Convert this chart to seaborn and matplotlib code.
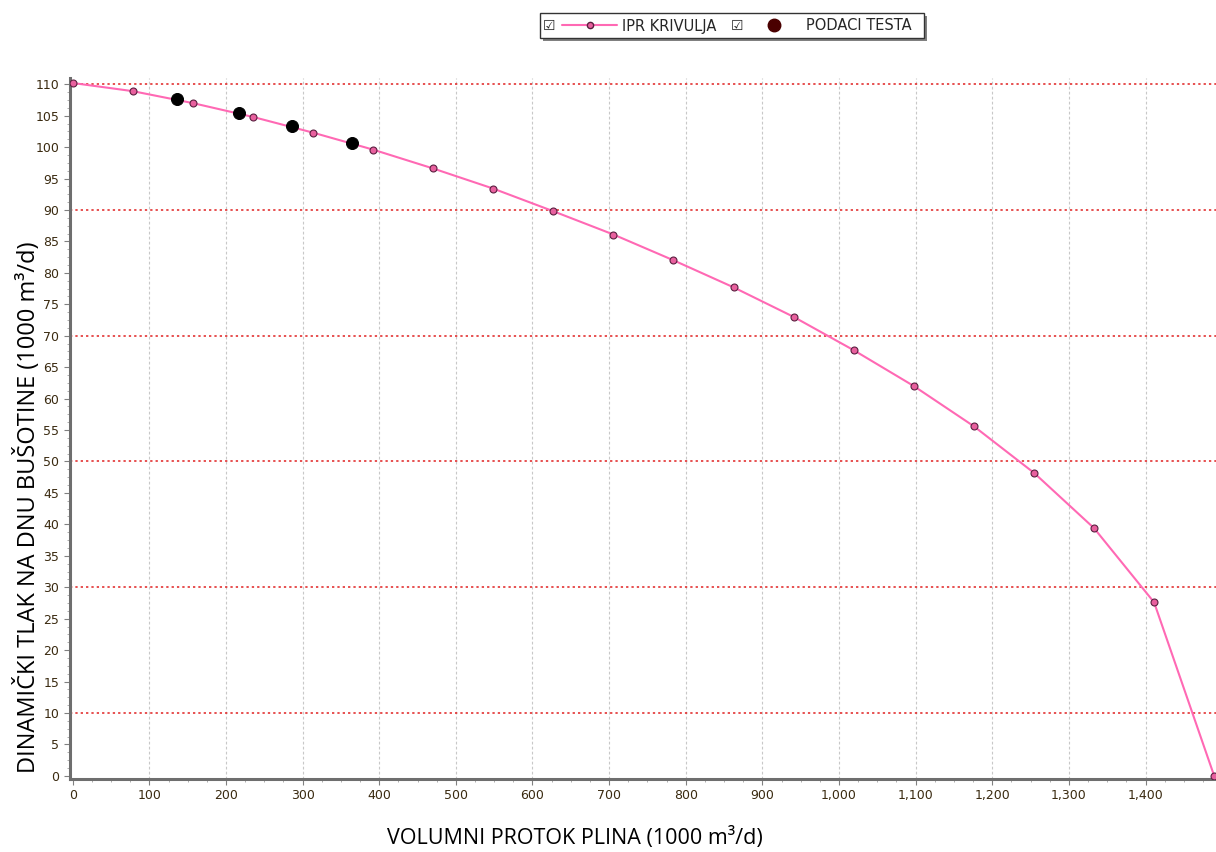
import numpy as np
import pandas as pd
import seaborn as sns
import matplotlib.pyplot as plt
from matplotlib.ticker import MultipleLocator, FuncFormatter
from matplotlib.lines import Line2D
from matplotlib.patches import Rectangle

# IPR curve
q_ipr = [0, 78.4, 156.8, 235.2, 313.6, 392.0, 470.4, 548.8, 627.2, 705.6,
         784.0, 862.4, 940.8, 1019.2, 1097.6, 1176.0, 1254.4, 1332.8, 1411.2, 1489.6]
p_ipr = [110.2, 108.9, 107.0, 104.8, 102.3, 99.6, 96.6, 93.4, 89.8, 86.1,
         82.0, 77.7, 73.0, 67.7, 62.0, 55.6, 48.2, 39.4, 27.6, 0.0]

# test data
q_test = [135.7, 217.4, 285.7, 364.4]
p_test = [107.6, 105.4, 103.3, 100.6]

df_ipr = pd.DataFrame({"q": q_ipr, "p": p_ipr})
df_test = pd.DataFrame({"q": q_test, "p": p_test})

sns.set_style("white")
plt.rcParams['font.family'] = ['DejaVu Sans']

W, H = 1216, 852
fig = plt.figure(figsize=(12.16, 8.52), dpi=100)
ax = fig.add_axes([0.0573, 0.0857, 0.9427, 0.8228])

pink = "#ff69b4"
sns.lineplot(data=df_ipr, x="q", y="p", ax=ax, color=pink, linewidth=1.5,
             marker="o", markersize=5, markerfacecolor="#e8609e",
             markeredgecolor="#5a2040", markeredgewidth=0.8, zorder=3)
sns.scatterplot(data=df_test, x="q", y="p", ax=ax, color="black", s=75,
                marker="o", edgecolor="black", zorder=4)

ax.set_xlim(-4, 1492)
ax.set_ylim(-0.5, 111)

ax.xaxis.set_major_locator(MultipleLocator(100))
ax.xaxis.set_minor_locator(MultipleLocator(25))
ax.yaxis.set_major_locator(MultipleLocator(5))
ax.yaxis.set_minor_locator(MultipleLocator(1.25))
ax.xaxis.set_major_formatter(FuncFormatter(lambda v, p: f"{int(v):,}"))

for v in range(100, 1500, 100):
    ax.axvline(v, color="#c8c8c8", linestyle=(0, (2.5, 2)), linewidth=0.8, zorder=1)
for v in range(10, 111, 20):
    ax.axhline(v, color="#e02020", linestyle=(0, (1.5, 2)), linewidth=1.1, zorder=1)

for s in ["top", "right"]:
    ax.spines[s].set_visible(False)
for s in ["left", "bottom"]:
    ax.spines[s].set_color("#6e6e6e")
    ax.spines[s].set_linewidth(2.2)

ax.tick_params(which="major", length=4, color="#808080", labelsize=9, labelcolor="#3a2a10")
ax.tick_params(which="minor", length=2.5, color="#a0a0a0")
ax.tick_params(axis="both", which="both", bottom=True, left=True, direction="out")

ax.set_xlabel("")
ax.set_ylabel("")
fig.text(575 / W, 1 - 838 / H, "VOLUMNI PROTOK PLINA (1000 m³/d)",
         ha="center", va="center", fontsize=15.5, family="Open Sans", color="black")
fig.text(28 / W, 1 - 507 / H, "DINAMIČKI TLAK NA DNU BUŠOTINE (1000 m³/d)",
         ha="center", va="center", rotation=90, fontsize=17, family="Open Sans",
         color="black")

# legend box with shadow
fig.patches.append(Rectangle((543 / W, 1 - 41 / H), 384 / W, 25 / H,
                             transform=fig.transFigure, facecolor="#808080",
                             edgecolor="none", zorder=1))
fig.patches.append(Rectangle((540 / W, 1 - 38 / H), 384 / W, 25 / H,
                             transform=fig.transFigure, facecolor="white",
                             edgecolor="#333333", linewidth=1.0, zorder=2))

handles = [Line2D([], [], color=pink, linewidth=1.5, marker="o", markersize=4.5,
                  markerfacecolor="#e8609e", markeredgecolor="#5a2040"),
           Line2D([], [], linestyle="none", marker="o", markersize=9,
                  color="#4a0000")]
leg = fig.legend(handles, ["IPR KRIVULJA", "PODACI TESTA"], loc="center",
                 bbox_to_anchor=(737 / W, 1 - 26 / H), ncol=2,
                 frameon=False, fontsize=10.5,
                 handlelength=3.8, handletextpad=0.35, columnspacing=2.0,
                 borderpad=0.3, borderaxespad=0)
leg.set_zorder(5)
fig.text(549 / W, 1 - 26 / H, "☑", ha="center", va="center", fontsize=10, zorder=10)
fig.text(737 / W, 1 - 26 / H, "☑", ha="center", va="center", fontsize=10, zorder=10)

fig.savefig("out.png", dpi=100)
